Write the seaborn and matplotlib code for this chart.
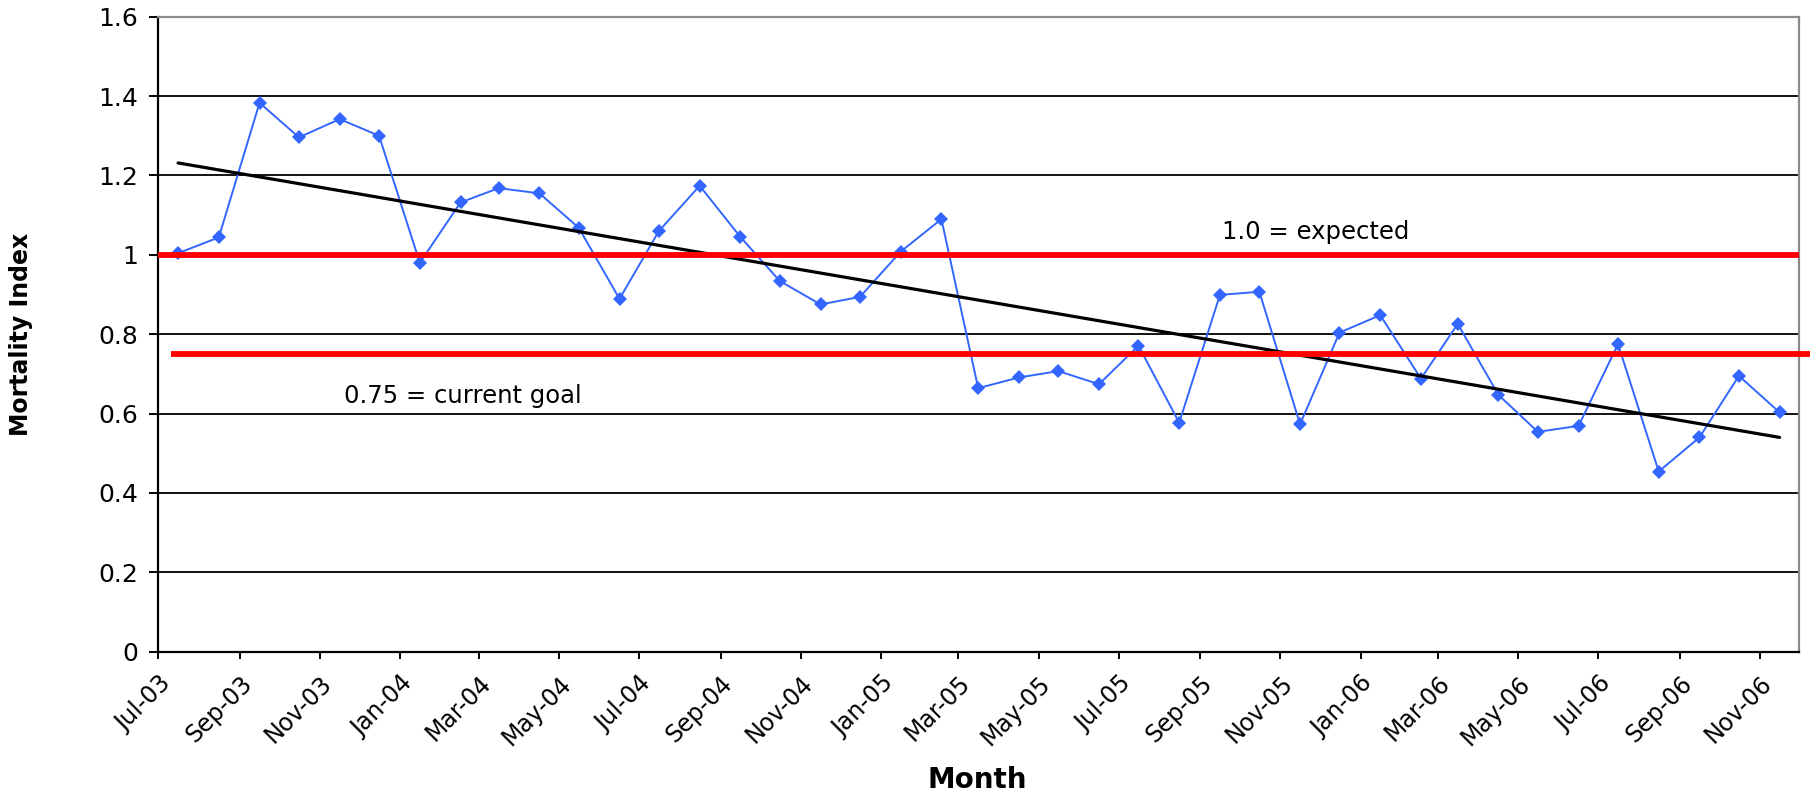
import datetime as dt

import matplotlib
matplotlib.use("Agg")
import matplotlib.pyplot as plt
import matplotlib.dates as mdates
import numpy as np
import pandas as pd
import seaborn as sns

# Monthly mortality index, Jul-03 .. Nov-06
months = pd.date_range("2003-07-01", "2006-11-01", freq="MS")
mortality_index = [
    1.004, 1.044, 1.383, 1.296, 1.342, 1.300,   # Jul-03 .. Dec-03
    0.980, 1.132, 1.168, 1.155, 1.068, 0.889,   # Jan-04 .. Jun-04
    1.060, 1.174, 1.045, 0.934, 0.875, 0.894,   # Jul-04 .. Dec-04
    1.008, 1.090, 0.664, 0.691, 0.707, 0.674,   # Jan-05 .. Jun-05
    0.771, 0.577, 0.899, 0.907, 0.573, 0.804,   # Jul-05 .. Dec-05
    0.848, 0.688, 0.826, 0.647, 0.554, 0.569,   # Jan-06 .. Jun-06
    0.775, 0.454, 0.540, 0.695, 0.603,          # Jul-06 .. Nov-06
]
expected_level = 1.0
goal_level = 0.75
expected_text = "1.0 = expected"
goal_text = "0.75 = current goal"
tick_months = pd.date_range("2003-07-01", "2006-11-01", freq="2MS")

# each month's value sits in the middle of its month
plot_dates = months + pd.Timedelta(days=15)
df = pd.DataFrame({"Month": plot_dates, "Mortality Index": mortality_index})
df["num"] = mdates.date2num(df["Month"])

sns.set_style("white")
plt.rcParams["font.family"] = ["DejaVu Sans"]
plt.rcParams.update({
    "text.color": "black",
    "axes.labelcolor": "black",
    "xtick.color": "black",
    "ytick.color": "black",
})

fig = plt.figure(figsize=(18.10, 7.96), dpi=100)
ax = fig.add_axes([0.0875, 0.1813, 0.9941 - 0.0875, 0.979 - 0.1813])

blue = "#3366FF"
sns.lineplot(data=df, x="Month", y="Mortality Index", ax=ax, color=blue,
             linewidth=1.4, marker="D", markersize=7.3, markeredgewidth=0,
             zorder=3)

# linear trend over the whole series
sns.regplot(data=df, x="num", y="Mortality Index", ax=ax, scatter=False,
            ci=None, truncate=True, color="black",
            line_kws={"linewidth": 2.3, "zorder": 4})

# reference levels
ytf = ax.get_yaxis_transform()
ax.plot([0.0, 1.0], [expected_level, expected_level], transform=ytf,
        color="#FF0000", linewidth=4.2, solid_capstyle="butt", zorder=5)
ax.plot([0.0075, 1.007], [goal_level, goal_level], transform=ytf,
        color="#FF0000", linewidth=4.2, solid_capstyle="butt", zorder=5,
        clip_on=False)

ax.text(0.6484, 1.039, expected_text, transform=ytf, fontsize=17.5,
        ha="left", va="baseline", color="black")
ax.text(0.1133, 0.627, goal_text, transform=ytf, fontsize=17.5,
        ha="left", va="baseline", color="black")

# axes
ax.set_xlim(dt.datetime(2003, 7, 1), dt.datetime(2006, 12, 1))
ax.set_ylim(0, 1.6)
ax.set_yticks(np.arange(0, 1.61, 0.2))
ax.set_yticklabels(["0", "0.2", "0.4", "0.6", "0.8", "1", "1.2", "1.4", "1.6"])
ax.set_xticks(tick_months)
ax.xaxis.set_major_formatter(mdates.DateFormatter("%b-%y"))

ax.yaxis.grid(True, color="black", linewidth=1.3)
ax.xaxis.grid(False)
ax.set_axisbelow(True)

ax.tick_params(axis="y", which="major", length=6.5, width=1.4, color="black",
               labelsize=18, pad=8, left=True, labelcolor="black")
ax.tick_params(axis="x", which="major", length=5, width=1.4, color="black",
               labelsize=17, pad=9, bottom=True, labelcolor="black")
for lbl in ax.get_xticklabels():
    lbl.set_rotation(45)
    lbl.set_ha("right")
    lbl.set_va("top")
    lbl.set_rotation_mode("anchor")

for side in ("left", "bottom"):
    ax.spines[side].set_color("black")
    ax.spines[side].set_linewidth(1.6)
for side in ("top", "right"):
    ax.spines[side].set_color("#8a8a8a")
    ax.spines[side].set_linewidth(1.6)
    ax.spines[side].set_visible(True)

ax.set_ylabel("Mortality Index", fontsize=17, fontweight="bold", color="black")
ax.set_xlabel("Month", fontsize=20, fontweight="bold", color="black")
ax.yaxis.set_label_coords(-0.0766, 0.5)
ax.xaxis.set_label_coords(0.499, -0.18)

fig.savefig("out.png", dpi=100, facecolor="white")
